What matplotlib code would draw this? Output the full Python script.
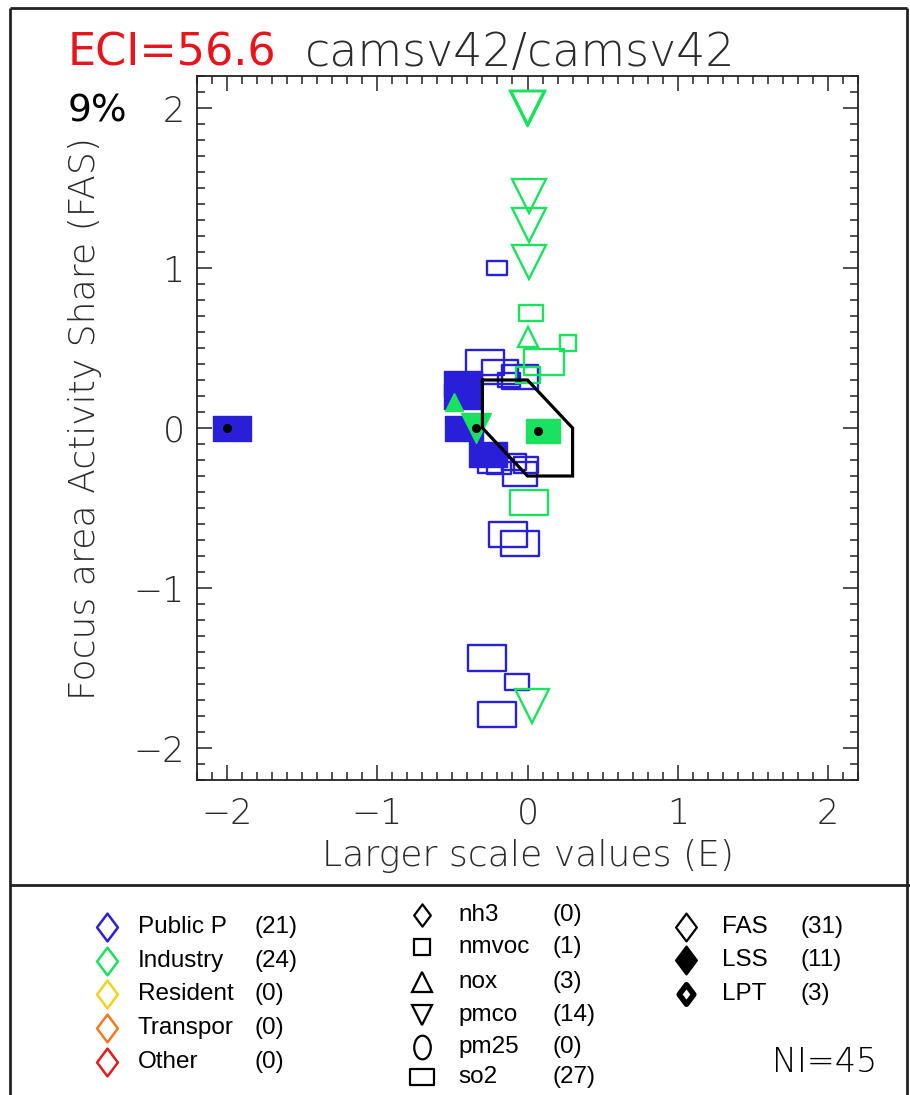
import numpy as np
import matplotlib
matplotlib.use("Agg")
import matplotlib.pyplot as plt
from matplotlib.path import Path
from matplotlib.ticker import MultipleLocator, FixedLocator
import matplotlib.transforms as mtransforms

# ---------------- data ----------------
# Public Power, so2 (open rectangles, FAS)
pp_so2_x = [-0.20, -0.28, -0.18, -0.05, -0.12, -0.25, -0.19, -0.09, -0.01, -0.05, -0.13, -0.05, -0.27, -0.07, -0.20]
pp_so2_y = [1.00, 0.41, 0.35, 0.32, 0.30, -0.23, -0.24, -0.21, -0.23, -0.29, -0.66, -0.72, -1.44, -1.59, -1.79]
# Public Power, so2 (filled rectangles, LSS)
pp_lss_x = [-0.43, -0.43, -0.42, -0.26]
pp_lss_y = [0.28, 0.20, 0.00, -0.16]
# Public Power, so2 (LPT)
pp_lpt_x = [-2.00]
pp_lpt_y = [0.00]

# Industry, pmco (open down triangles)
in_pmco_x = [0.00, 0.005, -0.005, 0.01, 0.01, 0.01, 0.03]
in_pmco_y = [2.00, 2.00, 2.00, 1.45, 1.27, 1.04, -1.74]
# Industry, pmco (LPT)
in_pmco_lpt_x = [-0.34]
in_pmco_lpt_y = [0.00]
# Industry, nox (open up triangle)
in_nox_x = [0.00]
in_nox_y = [0.57]
# Industry, nox (filled, LSS)
in_nox_lss_x = [-0.49]
in_nox_lss_y = [0.16]
# Industry, so2 (open rectangles)
in_so2_x = [0.02, 0.11, 0.00, 0.01]
in_so2_y = [0.72, 0.41, 0.33, -0.46]
# Industry, so2 (LPT)
in_so2_lpt_x = [0.07]
in_so2_lpt_y = [-0.02]
# Industry, nmvoc (open square)
in_nmvoc_x = [0.27]
in_nmvoc_y = [0.53]

# target polygon
poly_x = [-0.3, 0.0, 0.3, 0.3, 0.0, -0.3, -0.3]
poly_y = [0.3, 0.3, 0.0, -0.3, -0.3, 0.0, 0.3]

# legend content
sector_names = ["Public P", "Industry", "Resident", "Transpor", "Other"]
sector_counts = [21, 24, 0, 0, 0]
pollutant_names = ["nh3", "nmvoc", "nox", "pmco", "pm25", "so2"]
pollutant_counts = [0, 1, 3, 14, 0, 27]
type_names = ["FAS", "LSS", "LPT"]
type_counts = [31, 11, 3]
ni_total = 45
eci_value = 56.6
title_models = "camsv42/camsv42"
pct_text = "9%"

# ---------------- style ----------------
BLUE = "#2a1fd8"
GREEN = "#1ae25e"
sector_colors = ["#2a1fd8", "#1ae25e", "#f2d21a", "#ee7a22", "#e41c1c"]
pp_so2_ms = [15, 27, 26, 26, 16, 17, 17, 17, 17, 25, 27, 27, 28, 17, 27]
in_so2_ms = [18, 29, 17, 27]

plt.rcParams["font.family"] = ["DejaVu Sans"]
RECT = Path([(-1.5, -1), (1.5, -1), (1.5, 1), (-1.5, 1), (-1.5, -1)],
            [Path.MOVETO, Path.LINETO, Path.LINETO, Path.LINETO, Path.CLOSEPOLY])
DIAM = Path([(0, 1), (0.75, 0), (0, -1), (-0.75, 0), (0, 1)],
            [Path.MOVETO, Path.LINETO, Path.LINETO, Path.LINETO, Path.CLOSEPOLY])
ELL = Path.unit_circle().transformed(mtransforms.Affine2D().scale(0.7, 1.0))

W, H = 910, 1095
fig = plt.figure(figsize=(W / 100, H / 100), dpi=100)
ax = fig.add_axes([197 / W, 1 - 780 / H, (858 - 197) / W, (780 - 76) / H])
ax.set_xlim(-2.2, 2.2)
ax.set_ylim(-2.2, 2.2)

TXT = "#2a2a2a"
ax.xaxis.set_major_locator(FixedLocator([-2, -1, 0, 1, 2]))
ax.yaxis.set_major_locator(FixedLocator([-2, -1, 0, 1, 2]))
ax.xaxis.set_minor_locator(MultipleLocator(0.1))
ax.yaxis.set_minor_locator(MultipleLocator(0.1))
ax.tick_params(which="both", direction="in", top=True, right=True, color="#222", width=1.1)
ax.tick_params(which="major", length=11)
ax.tick_params(which="minor", length=5.5)
ax.tick_params(axis="x", which="major", pad=12, labelsize=25, labelcolor=TXT)
ax.tick_params(axis="y", which="major", pad=9, labelsize=25, labelcolor=TXT)
for lab in ax.get_xticklabels() + ax.get_yticklabels():
    lab.set_fontweight("light")
for s in ax.spines.values():
    s.set_linewidth(1.3)
    s.set_color("#222")

# open rectangles
for x, y, ms in zip(pp_so2_x, pp_so2_y, pp_so2_ms):
    ax.plot([x], [y], marker=RECT, ms=ms, mfc="none", mec=BLUE, mew=1.7, ls="none", zorder=3)
for x, y, ms in zip(in_so2_x, in_so2_y, in_so2_ms):
    ax.plot([x], [y], marker=RECT, ms=ms, mfc="none", mec=GREEN, mew=1.7, ls="none", zorder=3)
ax.plot(in_nmvoc_x, in_nmvoc_y, marker="s", ms=11, mfc="none", mec=GREEN, mew=1.7, ls="none", zorder=3)
# filled blue LSS
ax.plot(pp_lss_x, pp_lss_y, marker=RECT, ms=27, mfc=BLUE, mec=BLUE, mew=1, ls="none", zorder=4)
# triangles
ax.plot(in_pmco_x, in_pmco_y, marker="v", ms=24, mfc="none", mec=GREEN, mew=1.7, ls="none", zorder=3)
ax.plot(in_nox_x, in_nox_y, marker="^", ms=15, mfc="none", mec=GREEN, mew=1.7, ls="none", zorder=3)
ax.plot(in_nox_lss_x, in_nox_lss_y, marker="^", ms=13, mfc=GREEN, mec=GREEN, mew=1, ls="none", zorder=5)

# LPT markers (filled, with black dot)
off = mtransforms.offset_copy(ax.transData, fig=fig, x=5, y=0, units="dots")
ax.plot(pp_lpt_x, pp_lpt_y, marker=RECT, ms=27, mfc=BLUE, mec=BLUE, mew=1, ls="none", zorder=4, transform=off)
ax.plot(in_so2_lpt_x, in_so2_lpt_y, marker=RECT, ms=25, mfc=GREEN, mec=GREEN, mew=1, ls="none", zorder=4, transform=off)
ax.plot(in_pmco_lpt_x, in_pmco_lpt_y, marker="v", ms=21, mfc=GREEN, mec=GREEN, mew=1, ls="none", zorder=5)

# polygon
ax.plot(poly_x, poly_y, color="black", lw=2.3, zorder=6, solid_joinstyle="miter")
# dots for LPT
dots_x = pp_lpt_x + in_pmco_lpt_x + in_so2_lpt_x
dots_y = pp_lpt_y + in_pmco_lpt_y + in_so2_lpt_y
ax.plot(dots_x, dots_y, "o", color="black", ms=5.5, zorder=7)

# ---------------- overlay for texts/frame/legend ----------------
lax = fig.add_axes([0, 0, 1, 1], zorder=10)
lax.set_xlim(0, W)
lax.set_ylim(H, 0)
lax.axis("off")
lax.patch.set_alpha(0)

# frame
fk = dict(color="#222", lw=2.0, solid_capstyle="butt")
lax.plot([10, 10], [8, H], **fk)
lax.plot([10, 907], [8, 8], **fk)
lax.plot([907, 907], [8, H], **fk)
lax.plot([10, W], [885, 885], **fk)

# title
lax.text(68, 66, f"ECI={eci_value}", color="#e8141c", fontsize=32, ha="left", va="baseline")
lax.text(305, 66, title_models, color=TXT, fontsize=33, ha="left", va="baseline", fontweight="light")
lax.text(68, 122, pct_text, color="black", fontsize=27, ha="left", va="baseline")

# axis labels
lax.text(528, 866, "Larger scale values (E)", color=TXT, fontsize=26, ha="center", va="baseline", fontweight="light")
lax.text(85, 418, "Focus area Activity Share (FAS)", color=TXT, fontsize=26, ha="center", va="center",
         rotation=90, fontweight="light")

# legend column 1: sectors
LFS = 17.5
LK = dict(fontsize=LFS, color="black", va="center", ha="left",
          family=["Liberation Sans", "DejaVu Sans"])
ys1 = [927, 961, 994, 1028, 1062]
for name, cnt, col, yy in zip(sector_names, sector_counts, sector_colors, ys1):
    lax.plot([107], [yy], marker=DIAM, ms=20, mfc="none", mec=col, mew=1.8, ls="none")
    lax.text(138, yy, name, **LK)
    lax.text(255, yy, f"({cnt})", **LK)

# legend column 2: pollutants
ys2 = [915, 947, 982, 1015, 1047, 1077]
pmarks = [(DIAM, 16), ("s", 11), ("^", 14), ("v", 14), (ELL, 17), (RECT, 18)]
for name, cnt, (mk, ms), yy in zip(pollutant_names, pollutant_counts, pmarks, ys2):
    lax.plot([422], [yy], marker=mk, ms=ms, mfc="none", mec="black", mew=1.6, ls="none")
    lax.text(458, yy, name, **LK)
    lax.text(553, yy, f"({cnt})", **LK)

# legend column 3: types
ys3 = [927, 960, 994]
tstyles = [dict(mfc="none", mew=1.6), dict(mfc="black", mew=1.6), dict(mfc="white", mew=4.0)]
tms = [20, 20, 14]
for name, cnt, st, ms, yy in zip(type_names, type_counts, tstyles, tms, ys3):
    lax.plot([686], [yy], marker=DIAM, ms=ms, mec="black", ls="none", **st)
    lax.text(722, yy, name, **LK)
    lax.text(800, yy, f"({cnt})", **LK)

lax.text(877, 1062, f"NI={ni_total}", fontsize=24, color="black", ha="right", va="center", fontweight="light")

fig.savefig("out.png", dpi=100, facecolor="white")
